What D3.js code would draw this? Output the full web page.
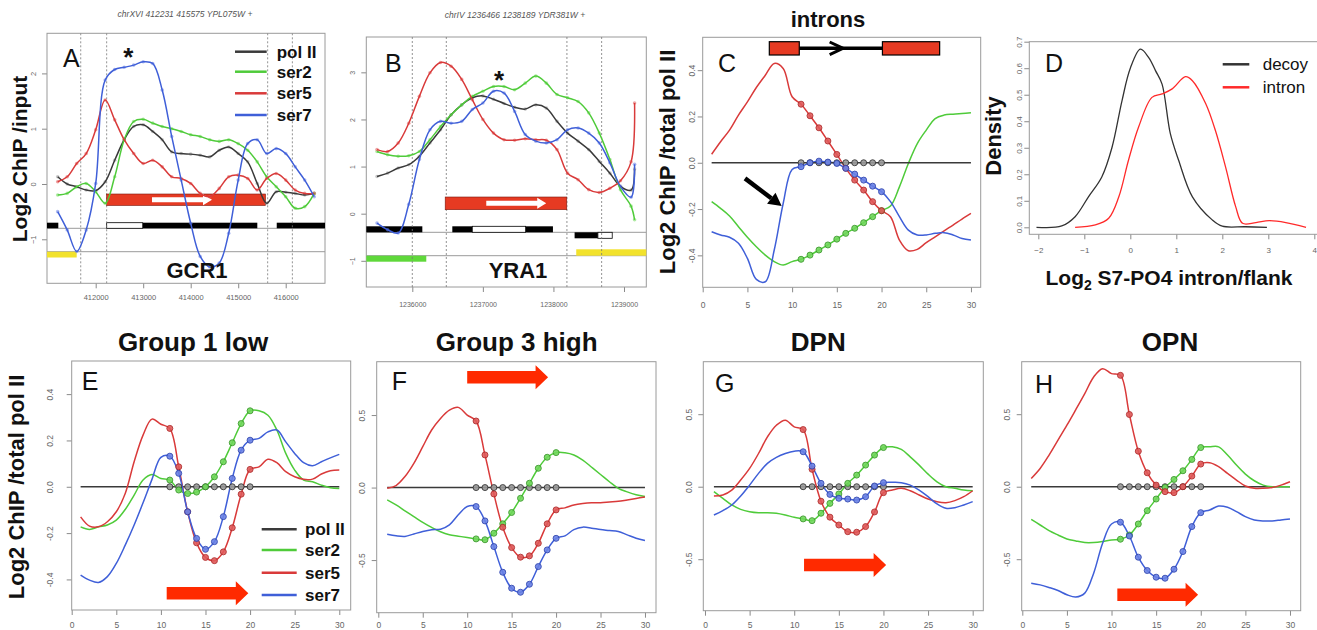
<!DOCTYPE html>
<html>
<head>
<meta charset="utf-8">
<script src="https://cdn.jsdelivr.net/npm/d3@7"></script>
<style>
  body { margin: 0; background: #fff; }
  svg { font-family: "Liberation Sans", Arial, Helvetica, sans-serif; }
</style>
</head>
<body>
<svg id="fig" width="1317" height="630"></svg>
<script>
// ---------------- data ----------------
const seriesNames = ["pol II", "ser2", "ser5", "ser7"];

// panel A : GCR1 locus
const aPos  = [411200,411400,411600,411800,412000,412200,412400,412600,412800,413000,413200,413400,413600,413800,
               414000,414200,414400,414600,414800,415000,415200,415400,415600,415800,416000,416200,416400,416600];
const aPol  = [0.13,0,-0.05,-0.11,-0.12,0.04,0.43,0.8,1.04,1.07,0.95,0.8,0.58,0.55,0.54,0.52,0.49,0.61,0.67,0.55,0.4,0.01,-0.35,-0.14,-0.15,-0.17,-0.2,-0.17];
const aSer2 = [-0.2,-0.17,-0.05,0.01,-0.14,-0.35,0.13,0.8,1.13,1.17,1.1,1.04,1.0,0.95,0.89,0.86,0.8,0.77,0.8,0.73,0.61,0.4,0.13,-0.05,-0.23,-0.44,-0.41,-0.17];
const aSer5 = [0.04,0.13,0.37,0.55,0.98,1.52,1.16,0.8,0.55,0.37,0.43,0.31,0.13,0.1,0.01,-0.17,-0.23,-0.08,0.13,0.16,0.1,-0.11,0.1,0.19,0.07,-0.11,-0.17,-0.17];
const aSer7 = [-0.5,-0.83,-1.22,-0.83,0.01,1.88,2.07,2.11,2.15,2.21,2.18,1.7,0.86,0.07,-0.71,-1.31,-1.5,-1.43,-0.89,0.07,0.73,0.8,0.55,0.64,0.55,0.31,0.07,-0.23];
const aGene = [412231, 415575];
const aGeneArrow = [413185, 414448];
const aMarks = [411685, 412231, 415620, 416140];
const aCds = [[410900, 411213], [412990, 415402], [415811, 416900]];
const aUtr = [[412231, 412990]];
const aYellow = [[410900, 411600]];

// panel B : YRA1 locus
const bPos  = [1235500,1235650,1235800,1235950,1236100,1236250,1236400,1236550,1236700,1236850,1237000,1237150,1237300,
               1237450,1237600,1237750,1237900,1238050,1238200,1238350,1238500,1238650,1238800,1238950,1239100,1239150];
const bPol  = [0.79,0.86,0.97,1.04,1.22,1.5,1.78,2.1,2.31,2.46,2.5,2.43,2.34,2.26,2.22,2.31,2.24,1.96,1.71,1.54,1.36,1.11,0.86,0.58,0.5,0.95];
const bSer2 = [1.32,1.25,1.22,1.23,1.32,1.57,1.85,2.1,2.31,2.49,2.6,2.7,2.7,2.63,2.77,2.92,2.77,2.53,2.46,2.38,2.14,1.71,1.15,0.51,0.16,-0.13];
const bSer5 = [1.36,1.32,1.5,1.92,2.49,2.99,3.21,3.13,2.85,2.42,2.0,1.71,1.57,1.56,1.59,1.57,1.56,1.36,0.86,0.72,0.51,0.45,0.54,0.7,1.1,2.35];
const bSer7 = [-0.2,-0.34,-0.41,0.2,1.15,1.78,1.96,1.92,1.96,2.21,2.35,2.6,2.56,2.17,1.68,1.54,1.5,1.57,1.78,1.82,1.71,1.5,1.08,0.58,0.35,1.05];
const bGene = [1236466, 1238189];
const bGeneArrow = [1237048, 1237898];
const bMarks = [1236000, 1236482, 1238191, 1238683];
const bCdsTop = [[1235300, 1236142], [1236567, 1236850], [1237606, 1237993]];
const bUtrTop = [[1236850, 1237606]];
const bCdsLow = [[1238300, 1238630]];
const bUtrLow = [[1238630, 1238833]];
const bGreen = [[1235300, 1236198]];
const bYellow = [[1238323, 1239400]];

// metagene bins (C, E-H)
const bins = [1,2,3,4,5,6,7,8,9,10,11,12,13,14,15,16,17,18,19,20,21,22,23,24,25,26,27,28,29,30];
const markedBins = [11,12,13,14,15,16,17,18,19,20];
const polFlat = [0,0,0,0,0,0,0,0,0,0,0,0,0,0,0,0,0,0,0,0,0,0,0,0,0,0,0,0,0,0];

// C : introns
const cSer2 = [-0.168,-0.197,-0.23,-0.276,-0.322,-0.363,-0.399,-0.427,-0.442,-0.427,-0.417,-0.399,-0.377,-0.355,-0.33,
               -0.305,-0.283,-0.259,-0.233,-0.207,-0.187,-0.104,-0.003,0.083,0.141,0.191,0.206,0.21,0.213,0.216];
const cSer5 = [0.037,0.091,0.141,0.206,0.263,0.325,0.378,0.429,0.407,0.285,0.253,0.203,0.151,0.094,0.036,
               -0.024,-0.075,-0.118,-0.168,-0.207,-0.233,-0.334,-0.38,-0.374,-0.345,-0.32,-0.294,-0.269,-0.243,-0.219];
const cSer7 = [-0.298,-0.312,-0.322,-0.348,-0.413,-0.504,-0.514,-0.377,-0.176,-0.029,-0.017,0,0.007,0.003,-0.003,
               -0.024,-0.049,-0.075,-0.101,-0.125,-0.168,-0.233,-0.291,-0.312,-0.312,-0.305,-0.302,-0.312,-0.327,-0.334];
const cExons = [[7.45, 10.8], [20.1, 26.5]];

// D : density
const dDecoyX = [-2.04,-1.49,-1.2,-0.91,-0.62,-0.4,-0.18,0,0.22,0.4,0.55,0.69,0.87,1.05,1.35,1.78,2.0,2.5,2.97];
const dDecoyY = [0,0.005,0.04,0.115,0.19,0.3,0.478,0.6,0.672,0.64,0.59,0.54,0.353,0.253,0.115,0.028,0.004,0.002,0];
const dIntronX = [-1.2,-0.76,-0.47,-0.25,-0.04,0.18,0.47,0.69,0.91,1.2,1.35,1.64,1.85,2.07,2.29,2.44,2.73,3.02,3.38,3.82];
const dIntronY = [0,0.009,0.034,0.115,0.253,0.378,0.49,0.503,0.522,0.568,0.553,0.466,0.365,0.228,0.078,0.015,0.018,0.025,0.018,0];

// E : Group 1 low
const eSer2 = [-0.173,-0.184,-0.173,-0.165,-0.144,-0.098,-0.036,0.029,0.053,0.036,0.029,-0.014,-0.029,-0.023,0,
               0.043,0.108,0.19,0.273,0.328,0.328,0.309,0.245,0.144,0.072,0.029,0.022,0.007,-0.004,-0.007];
const eSer5 = [-0.13,-0.17,-0.173,-0.151,-0.108,-0.029,0.108,0.223,0.292,0.27,0.252,0.086,-0.108,-0.242,-0.305,
               -0.319,-0.281,-0.177,-0.032,0.075,0.086,0.119,0.104,0.065,0.043,0.032,0.033,0.055,0.069,0.072];
const eSer7 = [-0.381,-0.403,-0.413,-0.388,-0.331,-0.252,-0.165,-0.069,0.032,0.127,0.132,0.058,-0.108,-0.223,-0.27,
               -0.237,-0.129,0.036,0.158,0.201,0.209,0.237,0.245,0.194,0.144,0.104,0.091,0.108,0.125,0.14];
// F : Group 3 high
const fSer2 = [-0.085,-0.12,-0.16,-0.2,-0.24,-0.275,-0.305,-0.325,-0.335,-0.345,-0.354,-0.36,-0.315,-0.25,-0.172,
               -0.074,0.03,0.133,0.209,0.241,0.24,0.225,0.19,0.14,0.09,0.04,-0.005,-0.03,-0.05,-0.062];
const fSer5 = [-0.005,0.014,0.076,0.167,0.282,0.397,0.477,0.534,0.553,0.5,0.459,0.225,-0.044,-0.274,-0.414,
               -0.48,-0.471,-0.384,-0.25,-0.154,-0.14,-0.12,-0.11,-0.105,-0.105,-0.1,-0.095,-0.085,-0.075,-0.065];
const fSer7 = [-0.322,-0.333,-0.337,-0.32,-0.303,-0.291,-0.287,-0.257,-0.188,-0.131,-0.131,-0.23,-0.407,-0.584,-0.694,
               -0.722,-0.667,-0.545,-0.43,-0.35,-0.333,-0.29,-0.273,-0.28,-0.29,-0.296,-0.303,-0.326,-0.349,-0.365];
// G : DPN
const gSer2 = [-0.034,-0.08,-0.126,-0.156,-0.172,-0.179,-0.179,-0.183,-0.195,-0.211,-0.222,-0.234,-0.183,-0.115,-0.05,
               0.023,0.08,0.149,0.218,0.27,0.275,0.257,0.206,0.149,0.087,0.034,0,-0.011,-0.023,-0.028];
const gSer5 = [-0.064,-0.057,-0.023,0.046,0.126,0.229,0.344,0.424,0.459,0.413,0.394,0.12,-0.1,-0.21,-0.264,
               -0.31,-0.314,-0.275,-0.174,-0.041,-0.023,-0.011,-0.028,-0.057,-0.085,-0.103,-0.11,-0.096,-0.069,-0.028];
const gSer7 = [-0.195,-0.165,-0.126,-0.064,0.011,0.092,0.161,0.202,0.229,0.245,0.241,0.142,0.023,-0.053,-0.08,
               -0.085,-0.092,-0.069,0.005,0.028,0.03,0.028,0.011,-0.023,-0.069,-0.119,-0.149,-0.145,-0.126,-0.103];
// H : OPN
const hSer2 = [-0.225,-0.264,-0.303,-0.333,-0.36,-0.374,-0.385,-0.385,-0.378,-0.367,-0.362,-0.333,-0.257,-0.165,-0.085,
               -0.005,0.05,0.11,0.188,0.27,0.275,0.275,0.218,0.149,0.087,0.041,0.011,0,0,0];
const hSer5 = [0.057,0.126,0.218,0.321,0.424,0.532,0.642,0.757,0.814,0.78,0.768,0.498,0.245,0.096,0.011,
               -0.034,-0.041,0,0.073,0.156,0.165,0.138,0.092,0.046,0.005,-0.011,-0.011,-0.005,0.011,0.034];
const hSer7 = [-0.665,-0.677,-0.695,-0.716,-0.745,-0.761,-0.734,-0.596,-0.39,-0.257,-0.245,-0.34,-0.486,-0.578,-0.624,
               -0.631,-0.569,-0.447,-0.275,-0.179,-0.161,-0.133,-0.142,-0.172,-0.206,-0.229,-0.236,-0.236,-0.229,-0.222];

// ---------------- styles ----------------
const lineCol = ["#3a3a3a", "#4fcb3a", "#d93a3a", "#3f5fd8"];
const dotStroke = ["#333", "#3a9a2a", "#b02a2a", "#2f45b0"];
const dotFill = ["#9a9a9a", "#6fd85a", "#e05a5a", "#6a82e6"];
const boxRed = "#e63a22";
const arrowRed = "#ff2a00";

const svg = d3.select("#fig");
const defs = svg.append("defs");

function fmtR(d) {   // R style tick labels with plain hyphen
  return (d < 0 ? "-" : "") + Math.abs(d).toFixed(1);
}

function panel(p) {
  const x = d3.scaleLinear().domain(p.xd).range([p.l, p.r]);
  const y = d3.scaleLinear().domain(p.yd).range([p.b, p.t]);
  const g = svg.append("g");
  defs.append("clipPath").attr("id", "clip" + p.id)
    .append("rect").attr("x", p.l).attr("y", p.t).attr("width", p.r - p.l).attr("height", p.b - p.t);

  const xa = g.append("g").attr("transform", "translate(0," + p.b + ")")
    .call(d3.axisBottom(x).tickValues(p.xt).tickSize(5).tickFormat(p.xf));
  const ya = g.append("g").attr("transform", "translate(" + p.l + ",0)")
    .call(d3.axisLeft(y).tickValues(p.yt).tickSize(5).tickFormat(p.yf));
  [xa, ya].forEach(a => {
    a.attr("font-family", null).attr("font-size", p.fs).attr("color", "#8a8a8a");
    a.select(".domain").remove();
  });
  xa.selectAll("text").attr("y", p.xly).attr("dy", null).attr("fill", "#666");
  ya.selectAll("text").attr("transform", "rotate(-90)").attr("x", 0).attr("y", -p.ylx)
    .attr("dy", null).attr("text-anchor", "middle").attr("fill", "#666");

  g.append("rect").attr("x", p.l).attr("y", p.t).attr("width", p.r - p.l).attr("height", p.b - p.t)
    .attr("fill", "none").attr("stroke", "#9a9a9a").attr("stroke-width", 1);

  const plot = g.append("g").attr("clip-path", "url(#clip" + p.id + ")");
  return { x, y, g, plot, p };
}

const smooth = d3.curveCatmullRom.alpha(0.5);

function drawLine(P, xs, ys, color, w) {
  const line = d3.line().x((d, i) => P.x(xs[i])).y(d => P.y(d)).curve(smooth);
  P.plot.append("path").datum(ys).attr("d", line)
    .attr("fill", "none").attr("stroke", color).attr("stroke-width", w).attr("stroke-linejoin", "round");
}

function scatter(P, xs, ys, color) {
  P.plot.append("g").selectAll("circle").data(ys).join("circle")
    .attr("cx", (d, i) => P.x(xs[i])).attr("cy", d => P.y(d)).attr("r", 1.8)
    .attr("fill", color).attr("opacity", 0.55);
}

function markedDots(P, ys, k) {
  P.plot.append("g").selectAll("circle").data(markedBins).join("circle")
    .attr("cx", b => P.x(b)).attr("cy", b => P.y(ys[b - 1])).attr("r", 3)
    .attr("fill", dotFill[k]).attr("stroke", dotStroke[k]).attr("stroke-width", 1).attr("opacity", 0.9);
}

function blockArrow(g, x0, x1, yc, sh, hh, hl, color) {
  const d = ["M", x0, yc - sh / 2, "L", x1 - hl, yc - sh / 2, "L", x1 - hl, yc - hh / 2, "L", x1, yc,
             "L", x1 - hl, yc + hh / 2, "L", x1 - hl, yc + sh / 2, "L", x0, yc + sh / 2, "Z"].join(" ");
  g.append("path").attr("d", d).attr("fill", color);
}

function label(x, y, txt, size, weight, anchor, extra) {
  const t = svg.append("text").attr("x", x).attr("y", y).text(txt)
    .attr("font-size", size).attr("font-weight", weight || "normal")
    .attr("text-anchor", anchor || "start").attr("fill", "#111");
  if (extra) extra(t);
  return t;
}

function vlabel(x, y, txt, size) {
  svg.append("text").attr("transform", "translate(" + x + "," + y + ") rotate(-90)")
    .attr("text-anchor", "middle").attr("font-size", size).attr("font-weight", "bold")
    .attr("fill", "#111").text(txt);
}

function legend(x0, x1, tx, ys, names, cols, size, weight) {
  names.forEach((n, i) => {
    svg.append("line").attr("x1", x0).attr("x2", x1).attr("y1", ys[i]).attr("y2", ys[i])
      .attr("stroke", cols[i]).attr("stroke-width", 2.5);
    label(tx, ys[i] + size * 0.36, n, size, weight);
  });
}

// genomic locus panels
function locus(P, pos, series, gene, geneArrow, marks, boxY) {
  const pl = P.plot;
  marks.forEach(m => {
    pl.append("line").attr("x1", P.x(m)).attr("x2", P.x(m)).attr("y1", P.p.t).attr("y2", P.p.b)
      .attr("stroke", "#777").attr("stroke-width", 0.8).attr("stroke-dasharray", "2,2");
  });
  pl.append("rect").attr("x", P.x(gene[0])).attr("width", P.x(gene[1]) - P.x(gene[0]))
    .attr("y", boxY[0]).attr("height", boxY[1] - boxY[0]).attr("fill", boxRed)
    .attr("stroke", "#7a1a10").attr("stroke-width", 0.6);
  blockArrow(pl, P.x(geneArrow[0]), P.x(geneArrow[1]), (boxY[0] + boxY[1]) / 2, 5, 11, 9, "#fff");
  series.forEach((s, k) => scatter(P, pos, s, dotFill[k]));
  series.forEach((s, k) => drawLine(P, pos, s, lineCol[k], 1.5));
}

function track(P, yLine1, yLine2) {
  [yLine1, yLine2].forEach(yy => {
    P.plot.append("line").attr("x1", P.p.l).attr("x2", P.p.r).attr("y1", yy).attr("y2", yy)
      .attr("stroke", "#9a9a9a").attr("stroke-width", 1);
  });
}

function bars(P, list, y0, y1, fill, stroke) {
  list.forEach(iv => {
    P.plot.append("rect").attr("x", P.x(iv[0])).attr("width", P.x(iv[1]) - P.x(iv[0]))
      .attr("y", y0).attr("height", y1 - y0).attr("fill", fill)
      .attr("stroke", stroke || "none").attr("stroke-width", 0.8);
  });
}

// ---------------- panel A ----------------
const A = panel({ id: "A", l: 47, t: 33.3, r: 325, b: 283.3, xd: [410975, 416827], yd: [-1.796, 2.725],
  xt: [412000, 413000, 414000, 415000, 416000], yt: [-1, 0, 1, 2], xf: d3.format("d"), yf: d3.format("d"),
  xly: 17, ylx: 11, fs: 7.5 });
track(A, 228.3, 251.7);
bars(A, aCds, 222.7, 228.3, "#000");
bars(A, aUtr, 222.7, 228.3, "#fff", "#000");
bars(A, aYellow, 251.7, 257.5, "#f2e22c");
locus(A, aPos, [aPol, aSer2, aSer5, aSer7], aGene, aGeneArrow, aMarks, [194, 205.5]);
label(185, 17, "chrXVI 412231 415575 YPL075W +", 8.5, "normal", "middle",
  t => t.attr("font-style", "italic").attr("fill", "#555"));
label(63, 67, "A", 25);
label(128.3, 66, "*", 26, "bold", "middle");
label(197, 278, "GCR1", 22, "bold", "middle");
vlabel(27, 159, "Log2 ChIP /input", 21);
legend(235, 266.7, 276.7, [51.7, 71.7, 93.3, 115], seriesNames, lineCol, 17, "bold");

// ---------------- panel B ----------------
const B = panel({ id: "B", l: 366.3, t: 37, r: 646.3, b: 287, xd: [1235348, 1239316], yd: [-1.556, 3.75],
  xt: [1236000, 1237000, 1238000, 1239000], yt: [-1, 0, 1, 2, 3], xf: d3.format("d"), yf: d3.format("d"),
  xly: 20, ylx: 11.5, fs: 7 });
track(B, 232.3, 255.7);
bars(B, bCdsTop, 226.3, 232.3, "#000");
bars(B, bUtrTop, 226.3, 232.3, "#fff", "#000");
bars(B, bCdsLow, 232.3, 238.3, "#000");
bars(B, bUtrLow, 232.3, 238.3, "#fff", "#000");
bars(B, bYellow, 249.3, 255.7, "#f2e22c");
bars(B, bGreen, 255.7, 261.7, "#5fd83a");
locus(B, bPos, [bPol, bSer2, bSer5, bSer7], bGene, bGeneArrow, bMarks, [197, 209.7]);
label(515, 18, "chrIV 1236466 1238189 YDR381W +", 8.5, "normal", "middle",
  t => t.attr("font-style", "italic").attr("fill", "#555"));
label(385, 71.7, "B", 25);
label(499, 89, "*", 26, "bold", "middle");
label(518, 278, "YRA1", 22, "bold", "middle");

// ---------------- panel C ----------------
const binTicks = [0, 5, 10, 15, 20, 25, 30];
const C = panel({ id: "C", l: 702.7, t: 37.3, r: 980.7, b: 287.3, xd: [0, 31.09], yd: [-0.538, 0.542],
  xt: binTicks, yt: [-0.4, -0.2, 0, 0.2, 0.4], xf: d3.format("d"), yf: fmtR, xly: 20.5, ylx: 8, fs: 8.5 });
[cSer2, cSer5, cSer7].forEach((s, i) => drawLine(C, bins, s, lineCol[i + 1], 1.5));
drawLine(C, bins, polFlat, lineCol[0], 1.5);
[polFlat, cSer2, cSer5, cSer7].forEach((s, k) => markedDots(C, s, k));
// intron diagram
C.g.append("line").attr("x1", C.x(cExons[0][1])).attr("x2", C.x(cExons[1][0])).attr("y1", 48.3).attr("y2", 48.3)
  .attr("stroke", "#000").attr("stroke-width", 3.5);
C.g.append("path").attr("d", "M" + C.x(14.2) + ",42 L" + C.x(15.7) + ",48.3 L" + C.x(14.2) + ",54.6")
  .attr("fill", "none").attr("stroke", "#000").attr("stroke-width", 3);
cExons.forEach(e => {
  C.g.append("rect").attr("x", C.x(e[0])).attr("width", C.x(e[1]) - C.x(e[0])).attr("y", 41.7).attr("height", 13.3)
    .attr("fill", boxRed).attr("stroke", "#000").attr("stroke-width", 1.2);
});
// pointer arrow
(function () {
  const x0 = C.x(4.73), y0 = C.y(-0.0675), x1 = C.x(8.83), y1 = C.y(-0.187);
  const ang = Math.atan2(y1 - y0, x1 - x0), hl = 13, hw = 7;
  const bx = x1 - hl * Math.cos(ang), by = y1 - hl * Math.sin(ang);
  C.g.append("line").attr("x1", x0).attr("y1", y0).attr("x2", bx).attr("y2", by)
    .attr("stroke", "#000").attr("stroke-width", 4.5);
  const px = -Math.sin(ang) * hw, py = Math.cos(ang) * hw;
  C.g.append("path").attr("d", "M" + x1 + "," + y1 + " L" + (bx + px) + "," + (by + py) + " L" + (bx - px) + "," + (by - py) + " Z")
    .attr("fill", "#000");
})();
label(828, 27, "introns", 22, "bold", "middle");
label(718, 71.7, "C", 25);
vlabel(675, 162, "Log2 ChIP /total pol II", 22);

// ---------------- panel D ----------------
const D = panel({ id: "D", l: 1029.3, t: 41.7, r: 1322, b: 234.3, xd: [-2.196, 4.167], yd: [-0.0264, 0.7],
  xt: [-2, -1, 0, 1, 2, 3, 4], yt: [0, 0.1, 0.2, 0.3, 0.4, 0.5, 0.6, 0.7], xf: d3.format("d"),
  yf: fmtR, xly: 18.5, ylx: 7, fs: 8 });
D.g.selectAll("g.tick text").filter(function () { return this.textContent.startsWith("-"); })
  .text(function () { return this.textContent; });
drawLine(D, dDecoyX, dDecoyY, "#333", 1.3);
drawLine(D, dIntronX, dIntronY, "#ff2a2a", 1.3);
label(1045, 71.7, "D", 25);
legend(1222.7, 1249.3, 1262.7, [64.3, 87.3], ["decoy", "intron"], ["#333", "#ff2a2a"], 17, "normal");
vlabel(1001, 136, "Density", 22);
label(1169, 285, "", 21, "bold", "middle", t => {
  t.append("tspan").text("Log");
  t.append("tspan").text("2").attr("font-size", 14).attr("dy", 5);
  t.append("tspan").text(" S7-PO4 intron/flank").attr("dy", -5);
});

// ---------------- panels E-H ----------------
const bottom = [
  { id: "E", l: 71.7, t: 361, r: 350.7, b: 610, xd: [0, 31.28], yd: [-0.532, 0.543], yt: [-0.4, -0.2, 0, 0.2, 0.4],
    xly: 18, ylx: 18.7, data: [eSer2, eSer5, eSer7], title: "Group 1 low", tx: 193,
    letter: [81.7, 390], arrow: [10.65, 19.8, -0.46] },
  { id: "F", l: 376.7, t: 361.7, r: 656, b: 612.7, xd: [-0.18, 31.24], yd: [-0.863, 0.868], yt: [-0.5, 0, 0.5],
    xly: 15.5, ylx: 12, data: [fSer2, fSer5, fSer7], title: "Group 3 high", tx: 516.7,
    letter: [391.7, 390], arrow: [10.0, 19.1, 0.76] },
  { id: "G", l: 703.3, t: 361.7, r: 983.3, b: 610.7, xd: [-0.19, 31.19], yd: [-0.855, 0.862], yt: [-0.5, 0, 0.5],
    xly: 17.3, ylx: 11, data: [gSer2, gSer5, gSer7], title: "DPN", tx: 818.3,
    letter: [715, 391.7], arrow: [11.1, 20.3, -0.54] },
  { id: "H", l: 1021.7, t: 361.7, r: 1300.7, b: 610.7, xd: [-0.067, 31.2], yd: [-0.855, 0.862], yt: [-0.5, 0, 0.5],
    xly: 17.3, ylx: 12, data: [hSer2, hSer5, hSer7], title: "OPN", tx: 1170,
    letter: [1035, 393], arrow: [10.65, 19.7, -0.745] }
];

bottom.forEach(cfg => {
  const P = panel(Object.assign({ xt: binTicks, xf: d3.format("d"), yf: fmtR, fs: 8.5 }, cfg));
  blockArrow(P.g, P.x(cfg.arrow[0]), P.x(cfg.arrow[1]), P.y(cfg.arrow[2]), 12.5, 24, 12.5, arrowRed);
  drawLine(P, bins, polFlat, lineCol[0], 1.5);
  cfg.data.forEach((s, i) => drawLine(P, bins, s, lineCol[i + 1], 1.5));
  markedDots(P, polFlat, 0);
  cfg.data.forEach((s, i) => markedDots(P, s, i + 1));
  label(cfg.tx, 351, cfg.title, 26, "bold", "middle");
  label(cfg.letter[0], cfg.letter[1], cfg.id, 25);
});

vlabel(24, 487, "Log2 ChIP /total pol II", 22);
legend(261.7, 296.7, 305, [529.3, 550, 572.7, 595], seriesNames, lineCol, 17, "bold");
</script>
</body>
</html>
